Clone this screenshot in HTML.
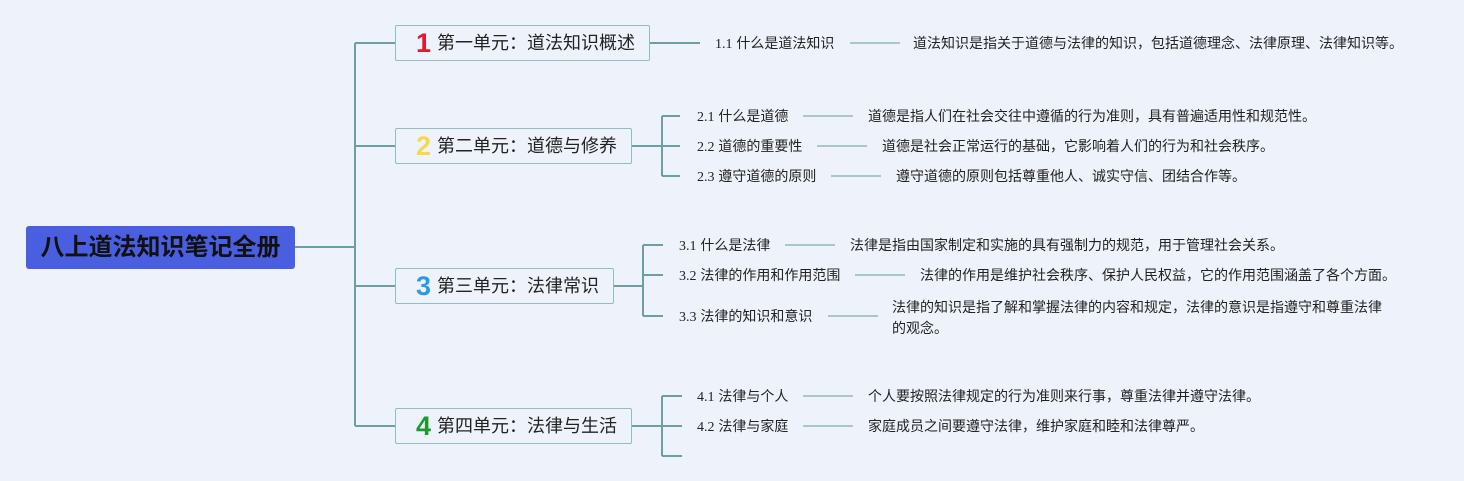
<!DOCTYPE html>
<html><head><meta charset="utf-8"><style>
body{margin:0;width:1464px;height:481px;background:#eef2fb;position:relative;overflow:hidden;font-family:"Liberation Sans","Noto Sans CJK SC",sans-serif}
.t{position:absolute;font-size:14px;color:#222;white-space:nowrap;line-height:16px}
.t span{font-family:"Liberation Serif",serif}
.box{position:absolute;height:34px;border:1.5px solid #93bcbf;border-radius:2px;background:#eef3fb;font-size:18px;color:#222;line-height:34px;box-sizing:border-box;padding-left:20px;white-space:nowrap}
.box b{font-size:27px;font-weight:900;margin-right:6px;vertical-align:-3px;font-family:"Liberation Sans",sans-serif}
</style></head><body>
<svg width="1464" height="481" style="position:absolute;left:0;top:0" fill="none">
<g stroke="#6e9fa0" stroke-width="2">
<path d="M295 247H355M355 43V426M355 43H395M355 146H395M355 286H395M355 426H395"/>
<path d="M650 43H700"/>
<path d="M632 146H662M662 116V176M662 116H680M662 146H680M662 176H680"/>
<path d="M614 286H643M643 245V316M643 245H663M643 275H663M643 316H663"/>
<path d="M632 426H662M662 396V456M662 396H682M662 426H682M662 456H682"/>
</g>
<g stroke="#a9c6cc" stroke-width="2">
<path d="M850 43H900M803 116H853M817 146H867M831 176H881M785 245H835M855 275H905M828 316H878M803 396H853M803 426H853"/>
</g>
</svg>
<div style="position:absolute;left:26px;top:226px;width:269px;height:43px;background:#4a5ee0;border-radius:3px;color:#111;font-weight:bold;font-size:24px;line-height:43px;text-align:center">八上道法知识笔记全册</div>
<div class="box" style="left:395px;top:25px;width:255px;height:36px"><b style="color:#e0192e">1</b>第一单元：道法知识概述</div>
<div class="box" style="left:395px;top:128px;width:237px;height:36px"><b style="color:#f5d94a">2</b>第二单元：道德与修养</div>
<div class="box" style="left:395px;top:268px;width:219px;height:36px"><b style="color:#2a9be0">3</b>第三单元：法律常识</div>
<div class="box" style="left:395px;top:408px;width:237px;height:36px"><b style="color:#1e9a2a">4</b>第四单元：法律与生活</div>
<div class="t" style="left:715px;top:35px"><span>1.1</span> 什么是道法知识</div>
<div class="t" style="left:913px;top:35px">道法知识是指关于道德与法律的知识，包括道德理念、法律原理、法律知识等。</div>
<div class="t" style="left:697px;top:108px"><span>2.1</span> 什么是道德</div>
<div class="t" style="left:868px;top:108px">道德是指人们在社会交往中遵循的行为准则，具有普遍适用性和规范性。</div>
<div class="t" style="left:697px;top:138px"><span>2.2</span> 道德的重要性</div>
<div class="t" style="left:882px;top:138px">道德是社会正常运行的基础，它影响着人们的行为和社会秩序。</div>
<div class="t" style="left:697px;top:168px"><span>2.3</span> 遵守道德的原则</div>
<div class="t" style="left:896px;top:168px">遵守道德的原则包括尊重他人、诚实守信、团结合作等。</div>
<div class="t" style="left:679px;top:237px"><span>3.1</span> 什么是法律</div>
<div class="t" style="left:850px;top:237px">法律是指由国家制定和实施的具有强制力的规范，用于管理社会关系。</div>
<div class="t" style="left:679px;top:267px"><span>3.2</span> 法律的作用和作用范围</div>
<div class="t" style="left:920px;top:267px">法律的作用是维护社会秩序、保护人民权益，它的作用范围涵盖了各个方面。</div>
<div class="t" style="left:679px;top:308px"><span>3.3</span> 法律的知识和意识</div>
<div class="t" style="left:892px;top:297px;line-height:21px">法律的知识是指了解和掌握法律的内容和规定，法律的意识是指遵守和尊重法律<br>的观念。</div>
<div class="t" style="left:697px;top:388px"><span>4.1</span> 法律与个人</div>
<div class="t" style="left:868px;top:388px">个人要按照法律规定的行为准则来行事，尊重法律并遵守法律。</div>
<div class="t" style="left:697px;top:418px"><span>4.2</span> 法律与家庭</div>
<div class="t" style="left:868px;top:418px">家庭成员之间要遵守法律，维护家庭和睦和法律尊严。</div>
</body></html>
